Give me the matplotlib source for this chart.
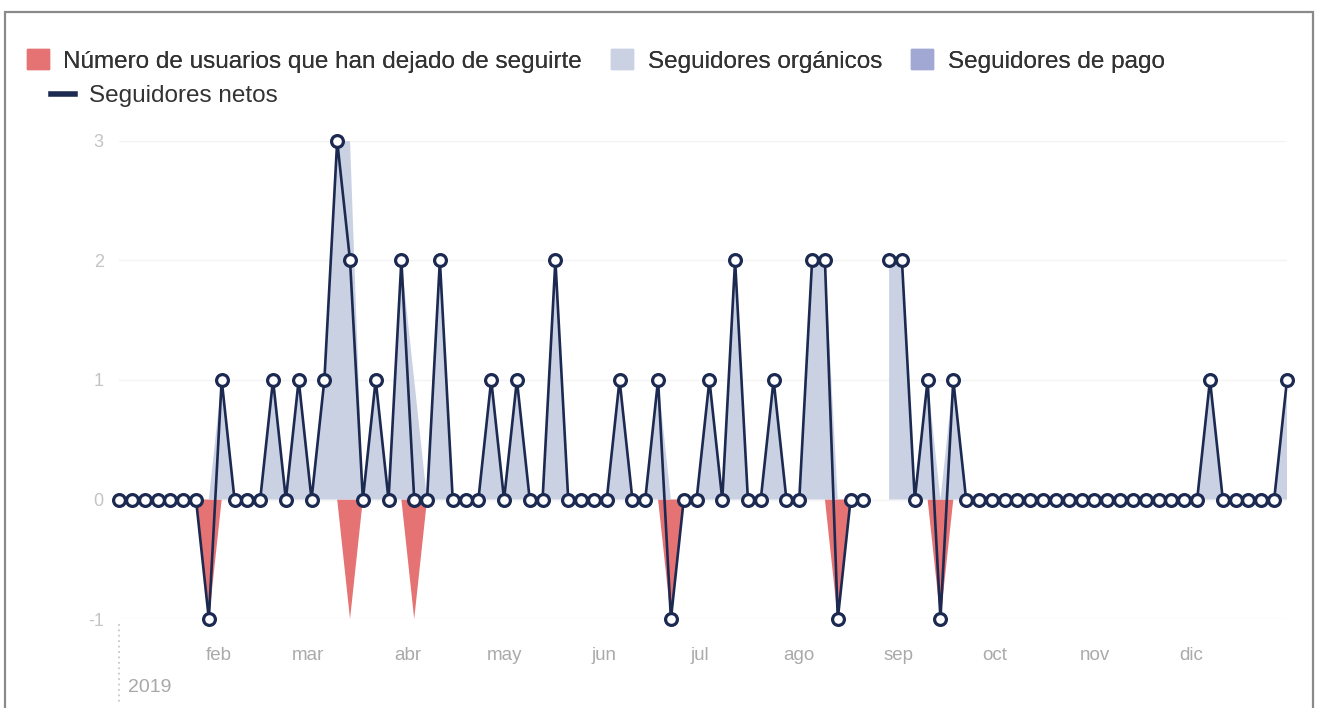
import numpy as np
import pandas as pd
import matplotlib
matplotlib.use("Agg")
import matplotlib.pyplot as plt
from matplotlib.patches import Patch, Rectangle
from matplotlib.lines import Line2D

plt.rcParams['font.family'] = ['Liberation Sans', 'DejaVu Sans']

# data: one point every 4 days through 2019 (None = no data)
fechas = pd.date_range('2019-01-01', periods=92, freq='4D')
organicos = [0, 0, 0, 0, 0, 0, 0, 0, 1, 0, 0, 0, 1, 0, 1, 0, 1, 3, 3, 0,
             1, 0, 2, 1, 0, 2, 0, 0, 0, 1, 0, 1, 0, 0, 2, 0, 0, 0, 0, 1,
             0, 0, 1, 0, 0, 0, 1, 0, 2, 0, 0, 1, 0, 0, 2, 2, 0, 0, 0, None,
             2, 2, 0, 1, 0, 1, 0, 0, 0, 0, 0, 0, 0, 0, 0, 0, 0, 0, 0, 0,
             0, 0, 0, 0, 0, 1, 0, 0, 0, 0, 0, 1]
pago = [0] * 92
pago[59] = None
dejados = [0] * 92
for i in [7, 18, 23, 43, 56, 64]:
    dejados[i] = 1
dejados[59] = None

meses = pd.date_range('2019-02-01', '2019-12-01', freq='MS')
meses_lbl = ['feb', 'mar', 'abr', 'may', 'jun', 'jul', 'ago', 'sep', 'oct', 'nov', 'dic']

org = np.array(organicos, dtype=float)
pag = np.array(pago, dtype=float)
unf = np.array(dejados, dtype=float)
netos = org + pag - unf

W, H = 1318, 708
fig = plt.figure(figsize=(W / 100, H / 100), dpi=100)
ax = fig.add_axes([119 / W, (H - 619) / H, (1287 - 119) / W, (619 - 141) / H])

c_red, c_org, c_pag, c_net = '#e57373', '#c9d1e3', '#a1a8d3', '#1c2951'

ax.fill_between(fechas, 0, -unf, color=c_red, lw=0, zorder=2)
ax.fill_between(fechas, 0, org, color=c_org, lw=0, zorder=2)
ax.fill_between(fechas, org, org + pag, color=c_pag, lw=0, zorder=2)
ax.plot(fechas, netos, color=c_net, lw=1.9, marker='o', ms=8.5,
        mfc='white', mec=c_net, mew=2.3, zorder=4, clip_on=False)

ax.set_xlim(pd.Timestamp('2019-01-01'), pd.Timestamp('2019-12-31'))
ax.set_ylim(-1, 3)
ax.set_yticks([-1, 0, 1, 2, 3])
ax.set_yticklabels(['-1', '0', '1', '2', '3'])
ax.set_xticks(meses)
ax.set_xticklabels(meses_lbl)
ax.tick_params(axis='y', length=0, pad=11, labelsize=13, labelcolor='#c4c4c4')
ax.tick_params(axis='x', length=0, pad=20, labelsize=13.5, labelcolor='#aaaaaa')
ax.grid(axis='y', color='#f3f3f3', lw=1, zorder=0)
for s in ax.spines.values():
    s.set_visible(False)

fig.text(128 / W, 1 - 688 / H, '2019', fontsize=14, color='#a8a8a8', va='center', ha='left')
fig.add_artist(Line2D([119 / W, 119 / W], [1 - 624 / H, 1 - 702 / H], transform=fig.transFigure,
                      color='#c8c8c8', lw=1.3, ls=(0, (1, 2))))

# outer frame
fig.add_artist(Rectangle((5 / W, -0.05), (1313 - 5) / W, 1.05 - 12 / H, transform=fig.transFigure,
                         fill=False, ec='#8a8a8a', lw=1.6))

h1 = [Patch(color=c_red), Patch(color=c_org), Patch(color=c_pag)]
l1 = ['Número de usuarios que han dejado de seguirte', 'Seguidores orgánicos', 'Seguidores de pago']
leg1 = fig.legend(h1, l1, loc='center left', bbox_to_anchor=(27 / W, 1 - 61 / H), ncol=3,
                  frameon=False, fontsize=17.5, handlelength=0.9, handleheight=0.9,
                  handletextpad=0.6, columnspacing=1.2, borderpad=0, borderaxespad=0,
                  labelcolor='#333333')
fig.add_artist(leg1)
h2 = [Line2D([0], [0], color=c_net, lw=4)]
fig.legend(h2, ['Seguidores netos'], loc='center left', bbox_to_anchor=(51 / W, 1 - 96 / H),
           frameon=False, fontsize=17.5, handlelength=1.0, handletextpad=0.55,
           borderpad=0, borderaxespad=0, labelcolor='#333333')

fig.savefig('out.png', dpi=100)
